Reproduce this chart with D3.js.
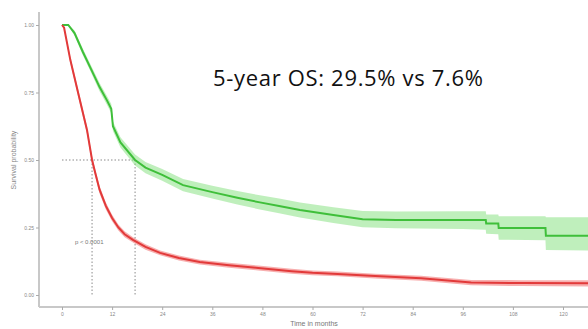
<!DOCTYPE html>
<html>
<head>
<meta charset="utf-8">
<script src="https://cdn.jsdelivr.net/npm/d3@7"></script>
<style>
	html, body { margin: 0; padding: 0; background: #fff; }
	svg { display: block; }
</style>
</head>
<body>
<div id="chart"></div>
<script>
// months, survival, lower CI, upper CI
var greenTimes = [0, 1.5, 3, 5, 6.7, 9, 10.8, 11.8, 12.2, 14, 17.5, 20, 24, 29, 36, 42, 47.4, 52, 57, 65, 72, 80, 96, 101.5, 101.6, 104.5, 104.6, 115.8, 115.9, 127];
var greenSurv  = [1, 1, 0.97, 0.9, 0.845, 0.77, 0.72, 0.69, 0.625, 0.565, 0.5, 0.472, 0.445, 0.407, 0.381, 0.36, 0.343, 0.33, 0.315, 0.296, 0.281, 0.278, 0.278, 0.278, 0.265, 0.265, 0.248, 0.248, 0.219, 0.219];
var greenLow   = [1, 1, 0.96, 0.888, 0.832, 0.755, 0.704, 0.673, 0.607, 0.546, 0.48, 0.451, 0.423, 0.384, 0.357, 0.335, 0.317, 0.303, 0.287, 0.267, 0.251, 0.247, 0.244, 0.242, 0.227, 0.225, 0.205, 0.203, 0.167, 0.165];
var greenHigh  = [1, 1, 0.98, 0.912, 0.858, 0.785, 0.736, 0.707, 0.643, 0.584, 0.52, 0.493, 0.467, 0.43, 0.405, 0.385, 0.369, 0.357, 0.343, 0.325, 0.311, 0.309, 0.31, 0.31, 0.298, 0.298, 0.292, 0.292, 0.288, 0.288];

var redTimes = [0, 0.5, 2, 4, 6, 7.2, 8, 9, 10.5, 12, 13.5, 15, 17, 20, 23.5, 28, 33, 40, 47, 55, 60, 66, 75, 86, 98, 110, 127];
var redSurv  = [1, 0.99, 0.87, 0.74, 0.61, 0.5, 0.45, 0.39, 0.33, 0.285, 0.25, 0.225, 0.204, 0.178, 0.156, 0.137, 0.122, 0.11, 0.1, 0.088, 0.082, 0.078, 0.07, 0.062, 0.046, 0.044, 0.043];
var redLow   = [1, 0.985, 0.858, 0.726, 0.596, 0.486, 0.436, 0.376, 0.317, 0.273, 0.239, 0.214, 0.194, 0.168, 0.147, 0.128, 0.113, 0.101, 0.091, 0.079, 0.073, 0.069, 0.061, 0.053, 0.036, 0.033, 0.031];
var redHigh  = [1, 0.995, 0.882, 0.754, 0.624, 0.514, 0.464, 0.404, 0.343, 0.297, 0.261, 0.236, 0.214, 0.188, 0.165, 0.146, 0.131, 0.119, 0.109, 0.097, 0.091, 0.087, 0.079, 0.071, 0.056, 0.055, 0.055];

var medians = [7.2, 17.5];
var xTicks = [0, 12, 24, 36, 48, 60, 72, 84, 96, 108, 120];
var yTicks = [0, 0.25, 0.5, 0.75, 1];
var yTickLabels = ['0.00', '0.25', '0.50', '0.75', '1.00'];
var headline = '5-year OS: 29.5% vs 7.6%';
var pValue = 'p < 0.0001';

(function() {
	"use strict";

	var width = 588, height = 329;
	var axisX = 39, axisY = 307;

	var svg = d3.select('#chart')
		.append('svg')
		.attr('width', width)
		.attr('height', height);

	var x = d3.scaleLinear().domain([0, 120]).range([62, 563]);
	var y = d3.scaleLinear().domain([0, 1]).range([295, 25]);

	var plot = svg.append('g');
	plot.append('clipPath').attr('id', 'clip')
		.append('rect').attr('x', axisX).attr('y', 0).attr('width', width - axisX).attr('height', axisY);

	// median guide lines
	var guides = plot.append('g')
		.attr('stroke', '#8a8a8a')
		.attr('stroke-width', 1)
		.attr('stroke-dasharray', '1.5,2');
	guides.append('line')
		.attr('x1', x(0)).attr('x2', x(medians[1]))
		.attr('y1', y(0.5)).attr('y2', y(0.5));
	medians.forEach(function (m) {
		guides.append('line')
			.attr('x1', x(m)).attr('x2', x(m))
			.attr('y1', y(0.5)).attr('y2', y(0));
	});

	drawCurve(plot, x, y, greenTimes, greenSurv, greenLow, greenHigh, '#3fbf3a', '#7fe07a', 0.5);
	drawCurve(plot, x, y, redTimes, redSurv, redLow, redHigh, '#e23a3a', '#f27a7a', 0.6);

	// axes
	var axes = svg.append('g').attr('stroke', '#c8c8c8').attr('stroke-width', 2);
	axes.append('line').attr('x1', axisX).attr('x2', axisX).attr('y1', 12).attr('y2', axisY);
	axes.append('line').attr('x1', axisX).attr('x2', width).attr('y1', axisY).attr('y2', axisY);

	var xAxis = svg.append('g')
		.attr('transform', 'translate(0,' + axisY + ')')
		.call(d3.axisBottom(x).tickValues(xTicks).tickSize(3).tickPadding(2));
	styleAxis(xAxis);

	var yAxis = svg.append('g')
		.attr('transform', 'translate(' + axisX + ',0)')
		.call(d3.axisLeft(y).tickValues(yTicks).tickSize(3).tickPadding(2)
			.tickFormat(function (d, i) { return yTickLabels[i]; }));
	styleAxis(yAxis);

	svg.append('text')
		.attr('x', 314).attr('y', 326)
		.attr('text-anchor', 'middle')
		.attr('font-family', 'Liberation Sans, Arial, sans-serif')
		.attr('font-size', 7)
		.attr('fill', '#777')
		.text('Time in months');

	svg.append('text')
		.attr('transform', 'translate(16,' + y(0.5) + ') rotate(-90)')
		.attr('text-anchor', 'middle')
		.attr('font-family', 'Liberation Sans, Arial, sans-serif')
		.attr('font-size', 7)
		.attr('fill', '#888')
		.text('Survival probability');

	svg.append('text')
		.attr('x', x(3.1)).attr('y', y(0.19))
		.attr('font-family', 'Liberation Sans, Arial, sans-serif')
		.attr('font-size', 6)
		.attr('fill', '#777')
		.text(pValue);

	svg.append('text')
		.attr('x', 213).attr('y', 86)
		.attr('font-family', 'Open Sans, Liberation Sans, sans-serif')
		.attr('font-size', 22)
		.attr('fill', '#111')
		.attr('textLength', 270)
		.text(headline);

	function drawCurve(g, x, y, times, surv, low, high, lineColor, bandColor, bandOpacity) {
		var pts = times.map(function (t, i) { return { t: t, s: surv[i], lo: low[i], hi: high[i] }; });
		var layer = g.append('g').attr('clip-path', 'url(#clip)');
		layer.append('path')
			.datum(pts)
			.attr('fill', bandColor)
			.attr('fill-opacity', bandOpacity)
			.attr('d', d3.area()
				.x(function (d) { return x(d.t); })
				.y0(function (d) { return y(d.lo); })
				.y1(function (d) { return y(d.hi); }));
		layer.append('path')
			.datum(pts)
			.attr('fill', 'none')
			.attr('stroke', lineColor)
			.attr('stroke-width', 2)
			.attr('d', d3.line()
				.x(function (d) { return x(d.t); })
				.y(function (d) { return y(d.s); }));
	}

	function styleAxis(axis) {
		axis.select('.domain').remove();
		axis.selectAll('.tick line').attr('stroke', '#aaa');
		axis.selectAll('.tick text')
			.attr('fill', '#888')
			.attr('font-size', 5)
			.attr('font-family', 'Liberation Sans, Arial, sans-serif');
	}
}());
</script>
</body>
</html>
